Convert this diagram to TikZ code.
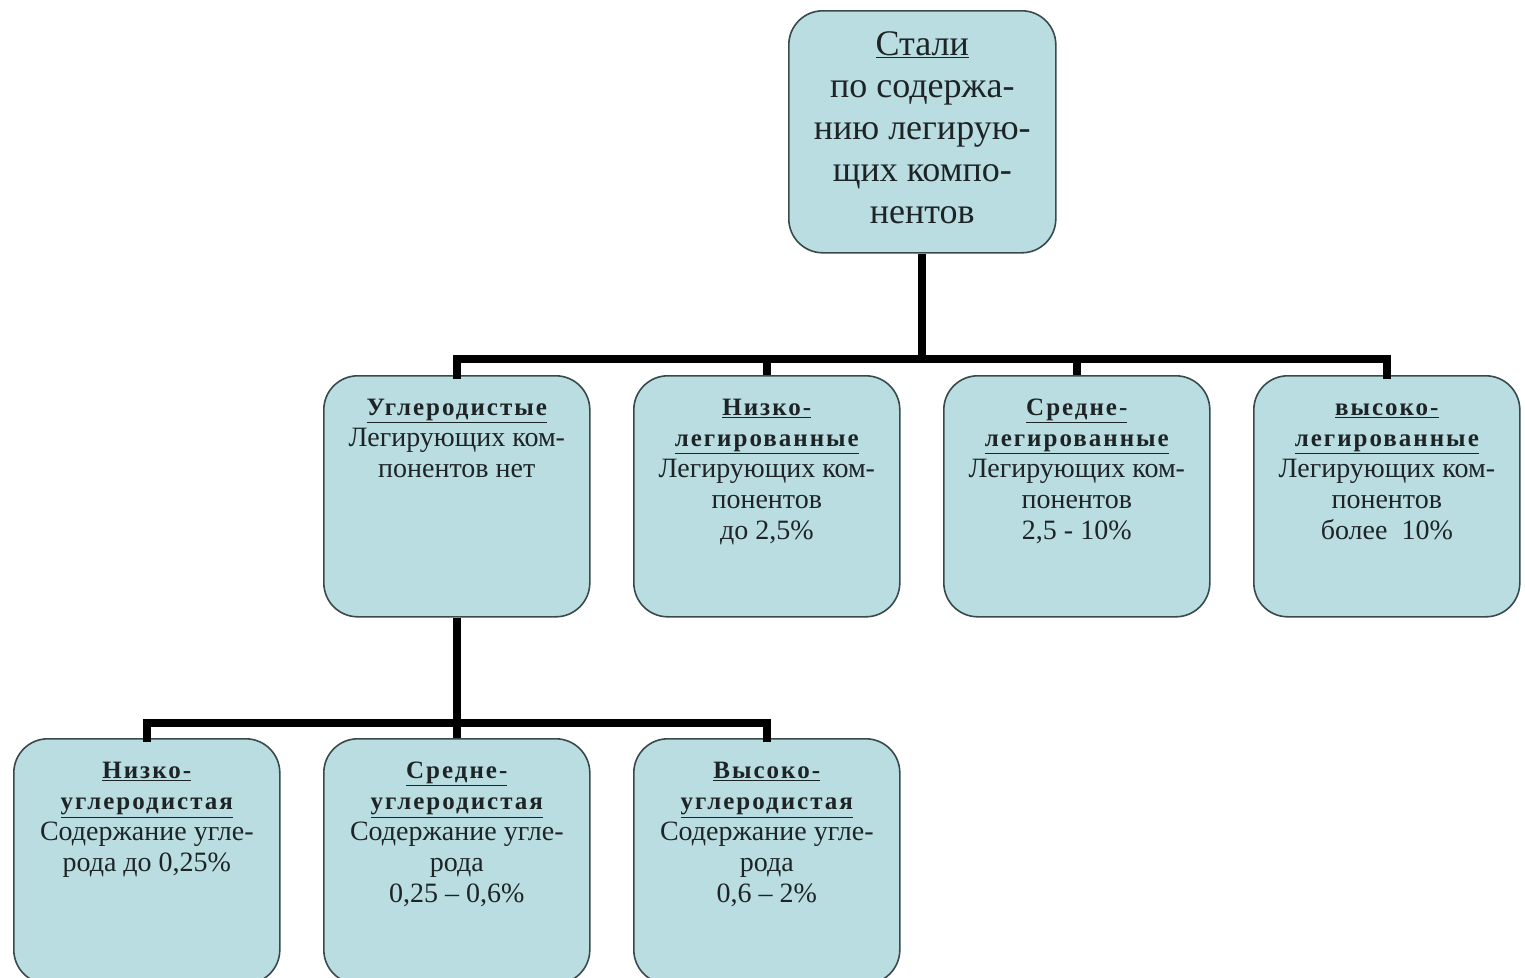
\documentclass[tikz,border=0pt]{standalone}
\usepackage{fontspec}
\setmainfont{Liberation Serif}
\newfontfamily\hdrfont[LetterSpace=8]{Liberation Serif}
\definecolor{boxfill}{HTML}{B9DDE1}
\definecolor{boxline}{HTML}{3A4A4A}
\definecolor{txt}{HTML}{1E2426}
\newcommand{\hd}[1]{\underline{\fontsize{25}{31}\selectfont\hdrfont\bfseries #1}}
\begin{document}
\begin{tikzpicture}[x=1pt,y=-1pt,
  box/.style={draw=boxline,line width=1.6pt,fill=boxfill,rounded corners=34pt,inner sep=0pt},
  lvl/.style={box,minimum width=266pt,minimum height=241pt,anchor=north west},
  top/.style={box,minimum width=267pt,minimum height=242pt,anchor=north west},
  body/.style={anchor=north,align=center,text=txt,font=\fontsize{28}{31}\selectfont,inner sep=0pt},
  bigbody/.style={anchor=north,align=center,text=txt,font=\fontsize{36}{42}\selectfont,inner sep=0pt},
  conn/.style={line width=8pt,black}]
\useasboundingbox (0,0) rectangle (1525,977);
\node[top] (s) at (788,10) {};
\node[lvl] (u) at (323,375) {};
\node[lvl] (n) at (633,375) {};
\node[lvl] (m) at (943,375) {};
\node[lvl] (h) at (1253,375) {};
\node[lvl,minimum height=245pt] (nu) at (13,738) {};
\node[lvl,minimum height=245pt] (mu) at (323,738) {};
\node[lvl,minimum height=245pt] (hu) at (633,738) {};
% junctions
\coordinate (j1) at ([yshift=-105pt]s.south);
\coordinate (j2) at ([yshift=-105pt]u.south);
% connectors
\draw[conn] (s.south) -- (j1);
\draw[conn,line cap=rect] (u.north) |- (j1) -| (h.north);
\draw[conn] (n.north) -- (n.north |- j1);
\draw[conn] (m.north) -- (m.north |- j1);
\draw[conn] (u.south) -- (j2);
\draw[conn,line cap=rect] (nu.north) |- (j2) -| (hu.north);
\draw[conn] (mu.north) -- (j2);
% texts
\node[bigbody] (st) at ([yshift=-21pt]s.north) {\underline{Стали}\\по содержа-\\нию легирую-\\щих компо-\\нентов};
\node[body] (ut) at ([yshift=-19pt]u.north) {\strut\hd{Углеродистые}\\Легирующих ком-\\понентов нет};
\node[body] (nt) at ([yshift=-19pt]n.north) {\strut\hd{Низко-}\\\hd{легированные}\\Легирующих ком-\\понентов\\до 2,5\%};
\node[body] (mt) at ([yshift=-19pt]m.north) {\strut\hd{Средне-}\\\hd{легированные}\\Легирующих ком-\\понентов\\2,5 - 10\%};
\node[body] (ht) at ([yshift=-19pt]h.north) {\strut\hd{высоко-}\\\hd{легированные}\\Легирующих ком-\\понентов\\более~~10\%};
\node[body] (nut) at ([yshift=-19pt]nu.north) {\strut\hd{Низко-}\\\hd{углеродистая}\\Содержание угле-\\рода до 0,25\%};
\node[body] (mut) at ([yshift=-19pt]mu.north) {\strut\hd{Средне-}\\\hd{углеродистая}\\Содержание угле-\\рода\\0,25 -- 0,6\%};
\node[body] (hut) at ([yshift=-19pt]hu.north) {\strut\hd{Высоко-}\\\hd{углеродистая}\\Содержание угле-\\рода\\0,6 -- 2\%};
\end{tikzpicture}
\end{document}
